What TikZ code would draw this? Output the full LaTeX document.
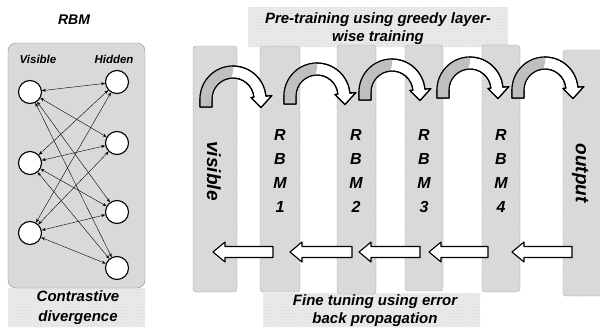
\documentclass[tikz,border=0pt]{standalone}
\usepackage{fontspec}
\setmainfont{Liberation Sans}
\usetikzlibrary{arrows.meta,patterns}
\begin{document}
\begin{tikzpicture}[x=1pt,y=-1pt,>={Stealth[length=4pt,width=3pt]},line cap=round,line join=round,font=\bfseries\itshape,
	neuron/.style={circle,draw,line width=1.1pt,fill=white,minimum size=23pt,inner sep=0pt},
	layer/.style={draw=black!50,densely dotted,fill=black!15,rounded corners=3pt},
	texture/.style={fill=black!8,postaction={pattern=crosshatch dots,pattern color=black!16}},
	stack/.style={align=center,font=\bfseries\itshape\fontsize{16}{24}\selectfont},
	caption/.style={align=center,font=\bfseries\itshape\fontsize{15}{18}\selectfont},
	hollow/.style={draw,line width=1.1pt,fill=white,solid}]
	\useasboundingbox (0,0) rectangle (600,327);
	\fill[texture] (8,288) rectangle (145,327);
	\fill[texture] (248,7) rectangle (508,47);
	\fill[texture] (263,293) rectangle (480,327);
	\draw[draw=black!45,fill=black!15,rounded corners=8pt] (8,43) rectangle (145,288);
	\node (rbm) at (74,20) {\fontsize{14}{16}\selectfont RBM};
	\node (vis) at (38,59) {\fontsize{11.5}{13}\selectfont Visible};
	\node (hid) at (114,59) {\fontsize{11.5}{13}\selectfont Hidden};
	\node[caption,font=\bfseries\itshape\fontsize{15}{20}\selectfont] (cd) at (78,308) {Contrastive\\divergence};
	\node[neuron] (v1) at (30,92) {};
	\node[neuron] (v2) at (30,163) {};
	\node[neuron] (v3) at (30,233) {};
	\node[neuron] (h1) at (117,82) {};
	\node[neuron] (h2) at (117,143) {};
	\node[neuron] (h3) at (117,212) {};
	\node[neuron] (h4) at (117,268) {};
	\foreach \i in {1,2,3}
		\foreach \j in {1,...,4}
			\draw[<->,line width=.4pt] (v\i) -- (h\j);
	\draw[layer] (193,46) rectangle (237,292);
	\draw[layer] (260,46) rectangle (300,292);
	\draw[layer] (337,45) rectangle (376,294);
	\draw[layer] (405,45) rectangle (443,291);
	\draw[layer] (482,45) rectangle (520,292);
	\draw[layer] (563,50) rectangle (612,296);
	\node[rotate=-90] (visible) at (214,171) {\fontsize{19}{20}\selectfont visible};
	\node[stack] (rbm1) at (280,171) {R\\B\\M\\1};
	\node[stack] (rbm2) at (356,171) {R\\B\\M\\2};
	\node[stack] (rbm3) at (424,171) {R\\B\\M\\3};
	\node[stack] (rbm4) at (501,171) {R\\B\\M\\4};
	\node[rotate=-90] (output) at (580,173) {\fontsize{19}{20}\selectfont output};
	\node[caption] (pre) at (378,29) {Pre-training using greedy layer-\\wise training};
	\node[caption] (fine) at (375,311) {Fine tuning using error\\back propagation};
	\foreach \bx/\by in {200/107,284/104,359/100,437/98,512/98}
	{
		\begin{scope}[shift={(\bx,\by)}]
			\path[hollow] (0,0) -- (0,-8) arc[start angle=180,end angle=355,radius=33] -- (71.9,-11.4) -- (60.9,0.6) -- (50.9,-9.6) -- (53.9,-9.8) arc[start angle=355,end angle=180,radius=21] -- (12,0) -- cycle;
			\begin{scope}
				\clip (-3,3) -- (-3,-45) -- (36,-45) -- (30,-25) -- (30,3) -- cycle;
				\fill[black!25] (0,0) -- (0,-8) arc[start angle=180,end angle=270,radius=33] -- (33,-29) arc[start angle=270,end angle=180,radius=21] -- (12,0) -- cycle;
			\end{scope}
			\draw[line width=1.1pt] (0,0) -- (0,-8) arc[start angle=180,end angle=355,radius=33] -- (71.9,-11.4) -- (60.9,0.6) -- (50.9,-9.6) -- (53.9,-9.8) arc[start angle=355,end angle=180,radius=21] -- (12,0) -- cycle;
		\end{scope}
	}
	\foreach \ax/\bx in {213/273,290/352,359/420,429/488,512/572}
		\draw[hollow] (\ax,252) -- (\ax+12,242) -- (\ax+12,246.5) -- (\bx,246.5) -- (\bx,257.5) -- (\ax+12,257.5) -- (\ax+12,262) -- cycle;
\end{tikzpicture}
\end{document}
